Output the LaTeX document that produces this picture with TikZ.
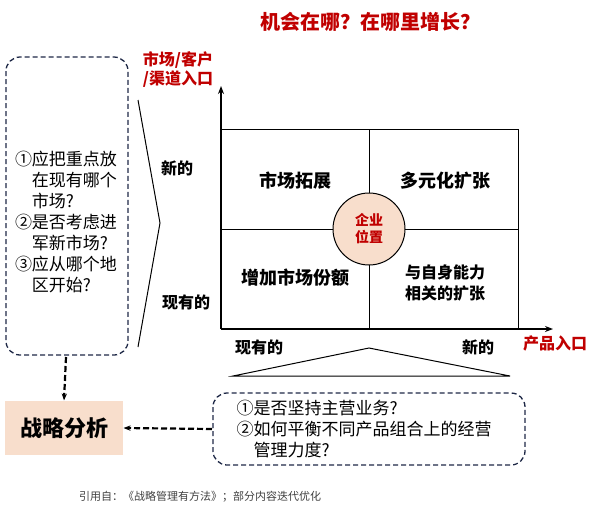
\documentclass[tikz,border=0pt]{standalone}
\usepackage{fontspec}
\setmainfont{Noto Sans CJK SC}
\usetikzlibrary{arrows.meta}
\definecolor{titlered}{RGB}{192,0,0}
\definecolor{peach}{RGB}{248,222,204}
\definecolor{boxline}{RGB}{30,40,70}
\tikzset{
  cell/.style={font=\bfseries\fontsize{18}{22}\selectfont, align=center},
  ask/.style={draw=boxline, dash pattern=on 5pt off 3pt, line width=1.3pt, rounded corners=14pt},
  asktext/.style={font=\fontsize{17}{21}\selectfont, align=left},
  redlab/.style={text=titlered, font=\bfseries\fontsize{16}{19}\selectfont, align=left},
  axlab/.style={font=\bfseries\fontsize{16}{18}\selectfont}
}
\begin{document}
\begin{tikzpicture}[x=1pt,y=-1pt,line width=1pt]
  \useasboundingbox (0,0) rectangle (600,515);
  \node[text=titlered, font=\bfseries\fontsize{20}{22}\selectfont] (title) at (370,22) {机会在哪？在哪里增长？};
  % axes and grid
  \coordinate (origin) at (221,329);
  \coordinate (ytop) at (221,86);
  \coordinate (xend) at (553,329);
  \draw[-{Stealth[length=8pt]}, line width=2pt] (origin) -- (ytop);
  \draw[-{Stealth[length=8pt]}, line width=2pt] (origin) -- (xend);
  \draw (221,129) -- (518,129) -- (518,329);
  \draw (221,229) -- (518,229);
  \draw (369,129) -- (369,329);
  \node[cell] (mkt) at (295,181) {市场拓展};
  \node[cell] (div) at (445,181) {多元化扩张};
  \node[cell] (share) at (295,278) {增加市场份额};
  \node[cell, font=\bfseries\fontsize{16}{21}\selectfont] (rel) at (445,283) {与自身能力\\相关的扩张};
  \node[circle, draw, fill=peach, minimum size=72pt, text=titlered,
        font=\bfseries\fontsize{14}{17}\selectfont, align=center] (firm) at (369,229) {企业\\位置};
  % axis labels
  \node[redlab] (ylab) at (178,70) {市场/客户\\/渠道入口};
  \node[redlab] (xlab) at (555,343) {产品入口};
  \node[axlab] (ynew) at (177,168) {新的};
  \node[axlab] (yold) at (186,302) {现有的};
  \node[axlab] (xold) at (259,347) {现有的};
  \node[axlab] (xnew) at (478,347) {新的};
  % triangles
  \draw (138,100) -- (160,223) -- (138,347);
  \draw (233,376) -- (369,348) -- (510,376) -- cycle;
  % question boxes
  \draw[ask] (6,57) rectangle (128,355);
  \node[asktext] (q1) at (66,222) {①应把重点放\\\hphantom{①}在现有哪个\\\hphantom{①}市场?\\②是否考虑进\\\hphantom{①}军新市场?\\③应从哪个地\\\hphantom{①}区开始?};
  \draw[ask] (213,393) rectangle (525,465);
  \node[asktext] (q2) at (364,429) {①是否坚持主营业务?\\②如何平衡不同产品组合上的经营\\\hphantom{①}管理力度?};
  % result
  \node[fill=peach, minimum width=118pt, minimum height=54pt, font=\bfseries\fontsize{22}{24}\selectfont] (sa) at (64,428) {战略分析};
  \draw[-{Stealth[length=7pt]}, dash pattern=on 6pt off 3pt, line width=2.2pt] (66,357) -- (sa.north);
  \draw[-{Stealth[length=7pt]}, dash pattern=on 6pt off 3pt, line width=2.2pt] (212,429) -- (sa.east);
  \node[text=black!75, font=\fontsize{11}{13}\selectfont] (src) at (200,497) {引用自：《战略管理有方法》；部分内容迭代优化};
\end{tikzpicture}
\end{document}
